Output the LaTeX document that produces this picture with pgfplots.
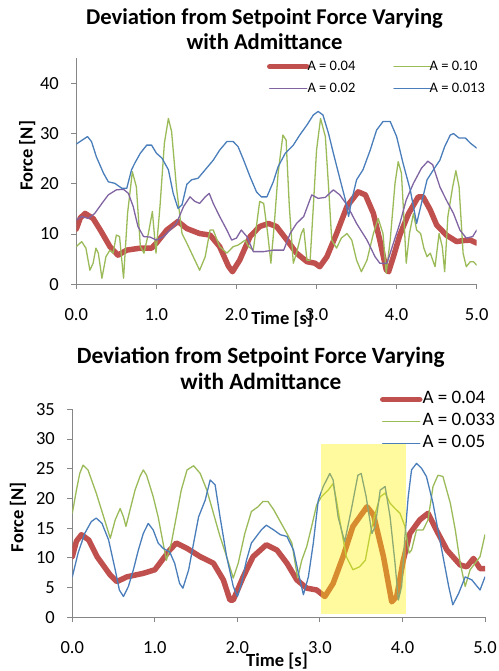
\documentclass[border=0pt]{standalone}
\usepackage{fontspec}
\setmainfont{Carlito}
\usepackage{pgfplots}
\usepackage{pgfplotstable}
\pgfplotsset{compat=1.18}

\definecolor{xlred}{RGB}{192,80,77}
\definecolor{xlgreen}{RGB}{155,187,89}
\definecolor{xlpurple}{RGB}{128,100,162}
\definecolor{xlblue}{RGB}{74,126,187}
\definecolor{axgray}{RGB}{134,134,134}

% top chart
\pgfplotstableread{
t f
0.00 11.0
0.05 13.2
0.11 14.1
0.21 13.1
0.30 10.8
0.42 7.5
0.52 5.8
0.63 6.8
0.80 7.2
0.94 7.2
1.00 8.2
1.13 10.8
1.27 12.5
1.38 11.1
1.54 10.1
1.67 9.8
1.79 7.5
1.90 3.6
1.95 2.5
2.04 4.8
2.17 9.5
2.29 11.5
2.40 12.1
2.50 11.5
2.63 8.8
2.75 6.2
2.88 4.5
2.98 4.2
3.04 3.5
3.13 5.5
3.25 10.1
3.38 15.5
3.52 18.4
3.61 17.8
3.71 14.1
3.79 8.8
3.87 2.9
3.90 2.5
3.96 5.5
4.04 9.8
4.15 14.1
4.27 17.4
4.33 17.4
4.42 14.8
4.50 11.8
4.62 9.8
4.75 8.5
4.83 8.7
4.92 8.8
5.00 8.2
}\topred

\pgfplotstableread{
t f
0.00 7.5
0.067 8.5
0.12 7.2
0.17 2.8
0.21 4.2
0.245 7.2
0.275 6.2
0.32 1.2
0.37 5.5
0.42 6.8
0.46 6.2
0.50 9.8
0.54 9.5
0.59 1.2
0.64 14.1
0.70 22.4
0.75 19.4
0.80 7.5
0.845 6.2
0.90 10.1
0.95 14.5
0.995 6.2
1.045 15.5
1.10 28.1
1.15 33.0
1.19 30.4
1.25 19.4
1.32 10.1
1.38 8.2
1.46 5.5
1.54 2.8
1.61 5.5
1.67 10.8
1.71 10.8
1.79 7.5
1.88 6.2
1.96 7.5
2.02 7.8
2.11 8.8
2.15 7.5
2.21 6.8
2.29 16.5
2.34 16.1
2.39 10.1
2.43 4.2
2.47 11.5
2.52 22.1
2.58 29.7
2.62 28.7
2.66 15.5
2.71 4.2
2.75 6.2
2.81 10.1
2.84 11.1
2.88 4.8
2.92 4.8
2.96 15.5
3.00 26.7
3.05 33.0
3.11 29.4
3.15 19.4
3.19 8.8
3.25 7.2
3.31 9.2
3.38 10.1
3.44 8.8
3.50 4.8
3.56 2.5
3.63 4.8
3.71 10.1
3.77 13.1
3.83 10.1
3.87 2.2
3.92 8.8
3.98 20.1
4.02 24.4
4.06 22.1
4.09 13.5
4.12 4.2
4.16 10.1
4.21 14.1
4.25 10.8
4.30 10.1
4.34 7.2
4.38 5.5
4.42 6.2
4.48 3.5
4.53 10.1
4.57 7.5
4.60 2.5
4.64 13.5
4.70 19.4
4.74 22.6
4.78 19.4
4.83 6.2
4.87 3.5
4.92 4.5
4.96 4.5
5.00 3.8
}\topgreen

\pgfplotstableread{
t f
0.00 12.8
0.067 13.5
0.15 13.1
0.23 14.1
0.32 16.1
0.40 17.8
0.50 18.8
0.59 18.9
0.65 18.1
0.71 15.5
0.77 11.5
0.84 9.5
0.92 9.4
1.00 8.8
1.09 9.5
1.17 10.8
1.25 12.1
1.34 15.5
1.42 17.4
1.48 16.5
1.54 16.1
1.61 17.4
1.66 18.1
1.71 16.1
1.79 13.5
1.88 10.8
1.94 8.8
2.00 9.2
2.06 10.8
2.13 9.5
2.21 6.5
2.34 6.5
2.46 6.8
2.59 6.8
2.67 10.1
2.75 12.1
2.84 13.5
2.94 17.8
3.02 17.1
3.11 17.3
3.21 18.8
3.29 17.8
3.38 15.8
3.50 12.1
3.63 8.8
3.73 5.5
3.79 4.2
3.88 4.2
3.96 8.2
4.04 12.1
4.12 16.8
4.21 20.1
4.31 23.1
4.39 24.5
4.45 23.8
4.54 19.4
4.62 16.8
4.71 14.1
4.79 10.8
4.87 9.2
4.95 9.5
5.00 10.8
}\toppurple

\pgfplotstableread{
t f
0.00 27.9
0.046 28.4
0.14 29.4
0.19 28.4
0.25 25.4
0.34 22.1
0.40 20.4
0.48 20.1
0.57 19.1
0.63 19.1
0.69 22.8
0.73 24.1
0.80 26.1
0.88 27.7
0.94 27.7
1.00 26.1
1.07 25.1
1.15 22.8
1.21 18.1
1.27 15.1
1.32 15.8
1.38 19.9
1.44 20.8
1.52 21.1
1.61 22.8
1.71 24.7
1.79 26.7
1.88 28.4
1.96 28.4
2.02 27.4
2.09 24.7
2.17 21.4
2.25 18.4
2.31 17.4
2.38 17.4
2.46 20.4
2.52 23.4
2.61 26.1
2.71 27.7
2.79 29.7
2.88 31.7
2.96 33.7
3.02 34.4
3.08 33.7
3.15 30.0
3.21 26.1
3.29 21.1
3.36 16.8
3.40 13.5
3.44 16.8
3.50 20.8
3.58 22.8
3.67 26.7
3.75 30.7
3.83 32.4
3.92 32.4
4.00 29.4
4.08 24.1
4.17 18.8
4.25 12.1
4.31 16.1
4.38 20.8
4.46 22.8
4.54 24.7
4.60 27.4
4.67 29.7
4.71 30.0
4.78 29.1
4.86 29.1
4.92 28.1
5.00 27.1
}\topblue

% bottom chart
\pgfplotstableread{
t f
0.00 10.2
0.05 12.8
0.11 13.9
0.20 13.0
0.30 10.2
0.46 7.1
0.54 6.0
0.66 6.8
0.86 7.4
1.00 8.0
1.18 11.3
1.26 12.5
1.39 11.6
1.55 10.2
1.71 9.1
1.83 6.3
1.91 2.9
1.95 2.9
2.07 6.8
2.19 10.2
2.35 12.2
2.48 11.3
2.60 9.1
2.72 6.3
2.84 4.9
2.96 4.6
3.06 3.5
3.16 5.7
3.28 10.2
3.40 15.3
3.57 18.6
3.65 17.2
3.77 10.2
3.87 2.6
3.93 3.5
4.01 9.6
4.09 14.1
4.21 16.4
4.31 17.5
4.41 14.7
4.54 11.3
4.70 8.8
4.78 8.5
4.86 9.9
4.94 8.2
5.00 8.2
}\botred

\pgfplotstableread{
t f
0.00 17.5
0.05 21.4
0.09 24.2
0.13 25.6
0.19 24.8
0.29 20.9
0.38 16.9
0.46 13.3
0.52 16.4
0.58 18.3
0.62 16.9
0.65 15.3
0.70 18.1
0.76 21.4
0.82 23.7
0.86 24.8
0.90 23.9
0.98 20.3
1.04 16.9
1.10 12.5
1.14 9.6
1.20 12.5
1.26 16.9
1.32 21.4
1.39 24.8
1.47 25.5
1.55 24.2
1.63 21.4
1.71 17.5
1.79 13.6
1.87 10.2
1.95 6.6
2.01 9.1
2.09 14.1
2.17 17.8
2.25 18.6
2.31 19.5
2.37 19.5
2.44 18.1
2.52 16.1
2.60 14.1
2.66 12.5
2.70 9.1
2.73 6.6
2.78 9.6
2.84 11.9
2.90 15.3
2.96 18.9
3.02 20.3
3.10 21.4
3.16 22.5
3.20 19.7
3.26 14.7
3.32 10.2
3.40 8.0
3.48 8.5
3.55 9.6
3.61 14.1
3.67 17.5
3.73 20.3
3.79 20.9
3.85 19.2
3.91 18.3
3.97 17.5
4.03 15.3
4.08 10.8
4.11 11.3
4.17 14.7
4.25 14.7
4.31 16.4
4.37 22.0
4.43 23.9
4.49 23.7
4.58 19.2
4.64 14.7
4.70 9.1
4.76 5.2
4.82 8.0
4.88 9.1
4.94 10.2
5.00 13.9
}\botgreen

\pgfplotstableread{
t f
0.00 6.8
0.07 10.8
0.15 14.1
0.23 16.1
0.29 16.7
0.36 15.8
0.44 13.0
0.52 8.0
0.57 4.6
0.62 3.5
0.68 5.2
0.74 8.0
0.80 11.3
0.86 14.1
0.92 15.8
0.98 14.7
1.04 12.5
1.10 11.6
1.18 11.0
1.24 9.1
1.30 5.7
1.34 4.9
1.41 8.0
1.47 12.5
1.53 16.9
1.61 19.7
1.67 23.1
1.73 22.3
1.79 16.9
1.87 10.2
1.95 5.2
2.00 3.5
2.05 5.7
2.11 9.6
2.17 12.5
2.23 13.6
2.29 14.7
2.35 15.5
2.44 14.7
2.52 13.9
2.60 13.6
2.68 11.3
2.74 7.4
2.80 3.8
2.86 6.8
2.92 12.5
2.98 19.7
3.04 22.0
3.12 24.2
3.16 23.1
3.22 16.9
3.30 12.7
3.38 18.1
3.46 23.9
3.50 24.2
3.56 20.3
3.63 14.1
3.67 15.3
3.73 21.4
3.79 22.0
3.85 16.9
3.91 9.1
3.95 2.9
3.99 5.2
4.03 13.6
4.07 20.3
4.11 24.8
4.17 25.9
4.23 25.1
4.29 23.7
4.37 19.2
4.43 14.7
4.50 9.6
4.56 5.2
4.61 2.1
4.68 4.0
4.76 6.8
4.84 6.3
4.94 4.6
5.00 6.8
}\botblue

\pgfplotsset{
  xlstyle/.style={
    scale only axis,
    anchor=south west,
    xmin=0, xmax=5,
    xtick={0,1,2,3,4,5},
    axis x line*=bottom, axis y line*=left,
    axis line style={-, draw=axgray, line width=1pt},
    tick style={draw=axgray, line width=1pt},
    tick align=outside,
    major tick length=5pt,
    ticklabel style={font=\fontsize{18.5}{20}\selectfont},
    /pgf/number format/assume math mode=true,
    xticklabel style={anchor=base, yshift=-31pt, /pgf/number format/.cd, fixed, fixed zerofill, precision=1},
    yticklabel style={anchor=east},
    yticklabel shift=9pt,
    label style={font=\bfseries\fontsize{18.5}{20}\selectfont},
    legend cell align=left,
    legend image code/.code={\draw[##1] (0pt,0pt) -- (37pt,0pt);},
    every axis plot/.append style={line join=round, line cap=round},
    thin/.style={line width=1.3pt},
  },
}

\begin{document}
\begin{tikzpicture}
\path[use as bounding box] (0,0) rectangle (498pt,671pt);

\node[anchor=base, font=\bfseries\fontsize{22.6}{24}\selectfont] at (264.5pt,646pt) {Deviation from Setpoint Force Varying};
\node[anchor=base, font=\bfseries\fontsize{22.6}{24}\selectfont] at (264.5pt,621pt) {with Admittance};

\begin{axis}[xlstyle,
  at={(76.3pt,386.7pt)}, width=400.4pt, height=226.1pt,
  ymin=0, ymax=45, ytick={0,10,20,30,40},
  xlabel={Time [s]}, ylabel={Force [N]},
  xlabel style={at={(axis description cs:0.514,0)}, anchor=base, yshift=-40.7pt},
  ylabel style={at={(axis description cs:-0.1224,0.568)}, anchor=center},
  legend columns=2,
  legend style={at={(axis description cs:0.4763,0.9956)}, anchor=north west,
    draw=none, fill=none, inner sep=0pt, outer sep=0pt,
    font=\fontsize{14.5}{16}\selectfont, row sep=7pt,
    nodes={inner sep=0pt, text height=11pt, text depth=4pt},
    /tikz/every odd column/.append style={column sep=-2pt},
    /tikz/every even column/.append style={column sep=38pt}},
]
\addplot[xlred, line width=5.5pt] table[x=t, y=f] {\topred};
\addlegendentry{A = 0.04}
\addplot[xlgreen, thin] table[x=t, y=f] {\topgreen};
\addlegendentry{A = 0.10}
\addplot[xlpurple, thin] table[x=t, y=f] {\toppurple};
\addlegendentry{A = 0.02}
\addplot[xlblue, thin] table[x=t, y=f] {\topblue};
\addlegendentry{A = 0.013}
\end{axis}

\node[anchor=base, font=\bfseries\fontsize{23.3}{25}\selectfont] at (260.8pt,307.7pt) {Deviation from Setpoint Force Varying};
\node[anchor=base, font=\bfseries\fontsize{23.3}{25}\selectfont] at (260.8pt,281.7pt) {with Admittance};

\begin{axis}[xlstyle,
  at={(72.3pt,53.7pt)}, width=412.7pt, height=208pt,
  ymin=0, ymax=35, ytick={0,5,...,35},
  xlabel={Time [s]}, ylabel={Force [N]},
  xlabel style={at={(axis description cs:0.496,0)}, anchor=base, yshift=-48.7pt},
  ylabel style={at={(axis description cs:-0.1316,0.482)}, anchor=center},
  legend style={at={(axis description cs:0.7456,1.088)}, anchor=north west,
    draw=none, fill=none, inner sep=0pt, outer sep=0pt,
    font=\fontsize{19}{21}\selectfont, row sep=5pt,
    nodes={inner sep=0pt, text height=13pt, text depth=4pt},
    /tikz/every odd column/.append style={column sep=0pt}},
]
\addplot[xlred, line width=5.5pt] table[x=t, y=f] {\botred};
\addlegendentry{A = 0.04}
\addplot[xlgreen, thin] table[x=t, y=f] {\botgreen};
\addlegendentry{A = 0.033}
\addplot[xlblue, thin] table[x=t, y=f] {\botblue};
\addlegendentry{A = 0.05}
\fill[yellow, opacity=0.38] (axis cs:3.009,0.56) rectangle (axis cs:4.039,29.1);
\end{axis}
\end{tikzpicture}
\end{document}
